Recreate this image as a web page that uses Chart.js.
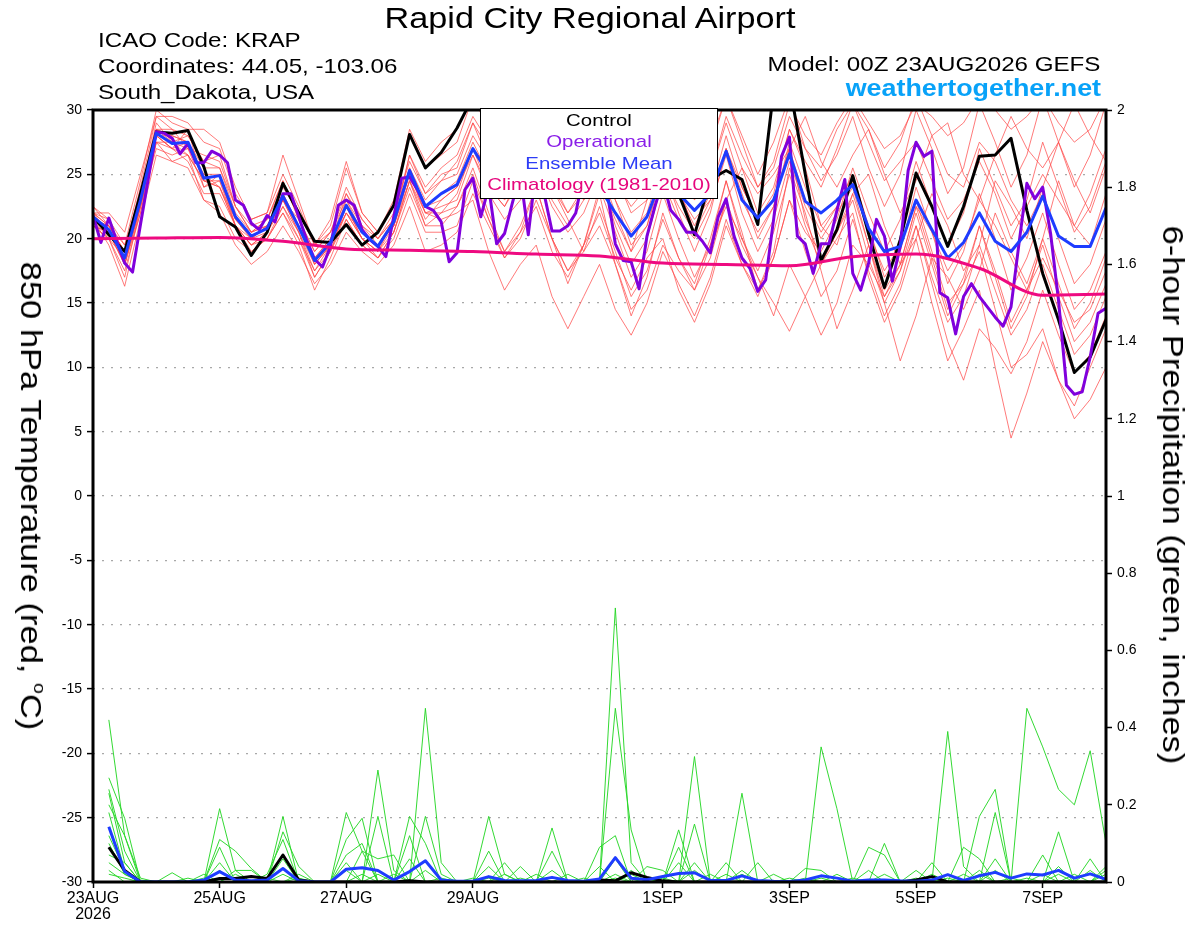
<!DOCTYPE html>
<html>
<head>
<meta charset="utf-8">
<title>Rapid City Regional Airport</title>
<script src="https://cdn.jsdelivr.net/npm/chart.js@4.4.1/dist/chart.umd.min.js"></script>
<style>
  body { margin: 0; background: #fff; }
  #wrap { position: relative; width: 1200px; height: 927px; overflow: hidden;
          font-family: "Liberation Sans", Arial, Helvetica, sans-serif; color: #000; }
  #graf { position: absolute; left: 0; top: 0; }
  .t { position: absolute; white-space: nowrap; line-height: 1; }
  .esq { transform-origin: left center; transform: scaleX(1.15); font-size: 21px; }
  .dir { transform-origin: right center; transform: scaleX(1.15); font-size: 21px; }
  #legenda { position: absolute; left: 480px; top: 108px; width: 238px; height: 91px;
             box-sizing: border-box; border: 1.5px solid #000; background: #fff; padding-top: 0.5px; }
  #legenda div { text-align: center; font-size: 17px; line-height: 21.5px; transform: scaleX(1.2); white-space: nowrap; }
  .rot { position: absolute; white-space: nowrap; line-height: 1; font-size: 30px;
         transform: translate(-50%, -50%) rotate(90deg) scaleX(1.15); }
</style>
</head>
<body>
<div id="wrap">
  <canvas id="graf" width="1200" height="927"></canvas>

  <div class="t" style="left:590px; top:4px; font-size:29px; transform: translateX(-50%) scaleX(1.18);">Rapid City Regional Airport</div>
  <div class="t esq" style="left:98px; top:29px;">ICAO Code: KRAP</div>
  <div class="t esq" style="left:98px; top:55px;">Coordinates: 44.05, -103.06</div>
  <div class="t esq" style="left:98px; top:81px;">South_Dakota, USA</div>
  <div class="t dir" style="right:100px; top:53px;">Model: 00Z 23AUG2026 GEFS</div>
  <div class="t" style="right:99px; top:76px; font-size:24px; font-weight:bold; color:#08a2f8; transform-origin:right center; transform:scaleX(1.12);">weathertogether.net</div>

  <div class="rot" style="left:32px; top:496px;">850 hPa Temperature (red, <sup style="font-size:17px; vertical-align:13px;">o</sup>C)</div>
  <div class="rot" style="left:1173px; top:495px;">6-hour Precipitation (green, inches)</div>

  <div id="legenda">
    <div style="color:#000;">Control</div>
    <div style="color:#8a1ee8;">Operational</div>
    <div style="color:#2c3cf6;">Ensemble Mean</div>
    <div style="color:#e6057c;">Climatology (1981-2010)</div>
  </div>
</div>

<script>
// eixo x em horas desde 00Z 23AUG
var tickHoras = [0, 48, 96, 144, 216, 264, 312, 360]
var tickRotulos = [['23AUG', '2026'], '25AUG', '27AUG', '29AUG', '1SEP', '3SEP', '5SEP', '7SEP']

// temperatura 850 hPa, a cada 6h (65 valores)
var tempControle = [
    21.7, 20.3, 19.0, 23.5, 28.3, 28.2, 28.4, 25.6, 21.7, 20.9, 18.7, 20.5, 24.3, 22.0, 19.8, 19.7, 21.1, 19.5, 20.5, 22.6, 28.1, 25.5,
    26.7, 28.6, 31.0, 30.5, 28.0, 27.0, 28.0, 27.0, 26.0, 27.0, 28.0, 27.0, 26.0, 25.5, 25.0, 23.5, 20.3, 24.6, 25.3, 24.6, 21.1, 31.5,
    32.0, 25.0, 18.3, 20.7, 24.9, 20.4, 16.2, 19.9, 25.1, 22.5, 19.4, 22.5, 26.4, 26.5, 27.8, 22.2, 17.3, 13.7, 9.6, 10.8, 13.7
]
var tempMedia = [
    21.7, 20.7, 18.5, 23.0, 28.2, 27.4, 27.5, 24.7, 24.9, 21.7, 20.2, 20.8, 23.3, 20.9, 18.3, 19.7, 22.6, 20.5, 19.4, 21.3, 25.3, 22.5,
    23.5, 24.2, 27.0, 25.0, 25.0, 26.0, 25.0, 25.5, 25.0, 24.5, 24.0, 22.0, 20.2, 21.7, 25.0, 23.5, 22.2, 23.5, 26.8, 23.0, 21.6, 23.0,
    26.6, 22.9, 22.0, 23.0, 24.2, 20.8, 19.0, 19.4, 23.0, 20.7, 18.5, 19.7, 22.0, 19.8, 19.0, 20.5, 23.3, 20.2, 19.4, 19.4, 22.4
]
// operacional a cada 3h (129 valores)
var tempOperacional = [
    21.8, 19.7, 21.6, 19.8, 18.1, 17.4, 21.1, 24.7, 28.3, 28.2, 27.8, 26.6, 27.4, 25.9, 25.9, 26.8,
    26.5, 25.9, 23.0, 22.6, 21.2, 20.7, 21.8, 21.3, 23.5, 23.5, 21.7, 19.9, 18.4, 17.8, 19.4, 22.6,
    23.0, 22.6, 20.7, 19.9, 19.4, 18.6, 21.7, 24.7, 24.8, 23.8, 22.5, 22.2, 21.3, 18.2, 18.9, 23.8,
    24.7, 21.7, 24.0, 19.6, 20.4, 22.8, 25.0, 20.3, 25.5, 23.5, 20.6, 20.6, 21.0, 22.0, 25.0, 26.0,
    25.5, 23.5, 19.6, 18.3, 18.2, 16.1, 20.2, 22.5, 24.5, 22.2, 21.5, 20.5, 20.5, 19.8, 18.9, 21.7,
    23.1, 20.2, 18.5, 17.7, 15.9, 16.8, 21.5, 26.4, 27.9, 20.2, 19.6, 17.3, 19.6, 19.6, 22.2, 24.6,
    17.3, 16.0, 18.1, 21.5, 20.2, 16.7, 19.4, 25.3, 27.5, 26.4, 26.8, 15.8, 15.4, 12.6, 15.5, 16.5,
    15.5, 14.7, 13.9, 13.2, 14.7, 19.6, 24.3, 23.1, 24.0, 20.4, 15.2, 8.6, 7.9, 8.1, 10.8, 14.2,
    14.6
]
// climatologia diaria (17 valores)
var tempClimatologia = [20.0, 20.05, 20.1, 19.8, 19.2, 19.1, 19.0, 18.8, 18.65, 18.1, 18.0, 17.9, 18.6, 18.8, 17.7, 15.6, 15.7]

// membros do ensemble (temperatura)
var membro1 = [
    22.0, 21.0, 19.0, 24.0, 29.5, 28.5, 27.0, 26.5, 26.0, 22.5, 20.5, 21.5, 24.5, 21.5, 18.0, 19.5, 23.5, 21.0, 19.5, 21.0, 26.5, 23.5,
    24.5, 26.0, 29.0, 26.0, 24.0, 25.5, 27.0, 24.5, 22.0, 24.0, 26.5, 23.0, 19.5, 21.0, 25.5, 22.0, 19.0, 22.0, 27.0, 23.5, 20.0, 22.5,
    27.5, 24.0, 21.0, 22.5, 25.0, 21.0, 17.0, 19.0, 24.0, 20.5, 16.5, 19.0, 23.5, 20.0, 16.0, 18.5, 22.0, 18.0, 14.5, 16.0, 19.0
]
var membro2 = [
    21.0, 20.0, 17.5, 22.0, 27.5, 27.0, 26.5, 23.0, 22.5, 20.0, 19.0, 20.0, 22.0, 20.0, 17.0, 19.0, 21.5, 19.5, 18.5, 20.5, 24.5, 21.0,
    21.0, 22.5, 25.5, 22.0, 19.0, 21.0, 24.0, 20.0, 16.5, 19.5, 23.5, 18.0, 14.0, 17.0, 22.0, 18.5, 16.5, 20.0, 24.5, 20.0, 17.5, 20.5,
    25.0, 21.0, 18.0, 20.0, 22.0, 17.0, 13.5, 16.0, 20.0, 15.0, 10.5, 13.0, 16.0, 10.0, 4.5, 8.0, 12.0, 9.0, 7.0, 10.0, 13.0
]
var membro3 = [
    22.5, 21.5, 19.5, 24.5, 30.0, 29.0, 28.5, 28.5, 27.5, 24.0, 21.5, 22.0, 26.5, 23.0, 19.5, 21.0, 25.5, 22.0, 20.5, 22.5, 28.0, 25.5,
    26.5, 27.5, 31.0, 28.5, 27.0, 28.5, 31.0, 28.0, 26.5, 28.0, 31.0, 27.5, 24.5, 26.0, 30.5, 27.0, 24.5, 27.0, 31.0, 28.0, 25.0, 27.5,
    31.0, 27.0, 24.5, 26.5, 29.5, 25.5, 22.5, 25.0, 30.0, 27.0, 23.5, 25.5, 30.5, 27.5, 24.0, 26.5, 31.0, 27.5, 24.0, 26.5, 30.5
]
var membro4 = [
    21.5, 20.5, 18.0, 22.5, 27.0, 26.5, 27.0, 24.0, 25.0, 21.0, 19.5, 20.5, 22.5, 20.5, 17.5, 19.0, 22.0, 20.0, 19.0, 21.0, 24.5, 22.0,
    22.5, 23.0, 26.5, 23.5, 21.5, 23.0, 25.5, 22.5, 20.5, 22.0, 25.0, 21.0, 18.0, 20.0, 24.5, 21.5, 20.0, 22.5, 26.5, 22.0, 19.0, 21.5,
    26.0, 22.5, 20.0, 22.0, 24.0, 19.5, 16.0, 18.0, 22.5, 18.5, 14.5, 17.0, 21.0, 17.5, 13.5, 16.0, 19.5, 15.5, 12.0, 13.5, 16.5
]
var membro5 = [
    22.0, 20.5, 18.5, 23.5, 28.5, 27.5, 27.0, 25.0, 24.0, 21.5, 20.0, 21.0, 23.5, 21.0, 18.5, 20.0, 22.5, 20.0, 19.0, 21.5, 25.0, 22.0,
    21.5, 22.0, 23.0, 19.0, 16.0, 18.0, 19.5, 15.5, 13.0, 15.5, 18.0, 14.5, 12.5, 15.0, 19.0, 16.5, 14.0, 17.0, 21.5, 18.0, 15.5, 18.5,
    23.0, 20.5, 19.0, 21.5, 25.5, 22.0, 19.0, 21.5, 26.0, 22.5, 19.5, 22.0, 27.0, 24.0, 21.0, 23.0, 27.5, 24.0, 20.5, 22.5, 26.0
]
var membro6 = [
    21.5, 21.0, 19.5, 23.0, 28.0, 28.0, 27.5, 25.5, 25.5, 22.0, 20.5, 21.0, 23.0, 21.5, 19.0, 20.5, 23.0, 21.0, 20.0, 21.5, 25.5, 23.0,
    24.5, 25.0, 28.0, 26.0, 25.5, 27.0, 28.5, 26.0, 24.5, 25.5, 27.0, 24.5, 22.5, 24.0, 27.5, 25.0, 23.5, 25.0, 29.0, 25.5, 23.5, 25.0,
    27.0, 29.5, 26.0, 24.0, 26.5, 28.5, 25.0, 22.0, 24.5, 28.0, 29.0, 25.0, 23.0, 26.5, 29.5, 27.0, 25.5, 27.5, 30.5, 28.0, 26.0
]
var membro7 = [
    22.0, 21.5, 18.0, 22.0, 27.5, 26.0, 26.5, 24.5, 24.0, 21.0, 19.0, 20.0, 22.0, 19.5, 16.0, 18.5, 21.5, 19.5, 18.5, 20.5, 24.0, 21.0,
    22.0, 23.5, 27.0, 24.0, 22.5, 24.5, 26.5, 23.0, 21.0, 23.0, 25.5, 22.0, 19.0, 21.0, 25.0, 22.5, 20.5, 23.0, 27.0, 23.0, 20.5, 22.5,
    27.0, 21.5, 18.5, 20.5, 23.0, 18.5, 15.0, 17.5, 21.0, 17.0, 13.5, 15.5, 19.5, 16.0, 12.5, 14.5, 18.0, 14.5, 11.0, 12.5, 15.5
]
var membro8 = [
    21.0, 20.0, 18.5, 23.5, 29.0, 27.5, 28.0, 26.0, 25.5, 22.5, 21.0, 21.5, 24.0, 22.0, 19.5, 20.5, 23.5, 21.5, 20.0, 22.0, 26.0, 23.5,
    25.0, 25.5, 29.0, 27.0, 25.0, 26.5, 29.5, 26.5, 24.0, 25.0, 28.0, 25.0, 22.0, 23.0, 26.0, 23.5, 21.0, 23.5, 28.0, 24.0, 21.5, 23.5,
    28.5, 25.5, 21.0, 19.5, 23.5, 25.0, 21.0, 18.0, 20.0, 23.5, 21.0, 17.5, 19.5, 24.5, 22.5, 20.0, 24.0, 27.5, 24.5, 22.0, 25.5
]
var membro9 = [
    21.5, 20.0, 17.0, 22.5, 28.0, 27.0, 26.0, 23.5, 23.5, 21.0, 19.5, 20.0, 22.5, 20.0, 17.5, 19.5, 22.0, 20.0, 18.5, 20.0, 23.5, 20.5,
    20.5, 21.0, 24.5, 21.5, 19.0, 20.5, 22.5, 19.0, 17.0, 19.5, 22.0, 18.5, 16.0, 18.5, 20.0, 16.0, 13.5, 16.5, 21.0, 18.0, 16.0, 19.0,
    25.5, 22.0, 17.5, 13.0, 16.0, 19.5, 15.0, 10.5, 14.0, 18.5, 17.0, 14.5, 17.5, 22.0, 19.0, 16.5, 20.0, 24.5, 21.0, 19.5, 23.5
]
var membro10 = [
    22.0, 21.0, 19.0, 23.5, 28.5, 28.0, 27.5, 25.0, 25.0, 21.5, 20.0, 21.0, 23.5, 21.0, 18.5, 20.0, 22.5, 20.5, 19.5, 21.0, 25.0, 22.5,
    23.5, 24.5, 27.5, 25.0, 23.0, 24.5, 26.5, 24.0, 22.0, 23.5, 26.0, 23.0, 20.5, 22.0, 26.0, 23.5, 21.5, 23.0, 27.0, 24.0, 21.5, 23.0,
    27.0, 23.0, 20.5, 22.5, 24.5, 20.5, 17.5, 19.5, 23.0, 19.0, 15.0, 16.5, 19.0, 14.5, 10.0, 11.0, 13.0, 9.0, 6.0, 7.5, 10.0
]
var membro11 = [
    21.0, 20.5, 18.0, 23.0, 28.0, 27.0, 28.5, 24.0, 24.5, 21.5, 20.5, 21.0, 23.0, 20.5, 18.0, 19.5, 23.0, 20.5, 19.5, 21.5, 25.5, 22.5,
    23.0, 24.0, 27.0, 25.5, 24.0, 26.5, 29.0, 27.5, 25.0, 23.0, 24.5, 21.5, 19.0, 23.0, 27.0, 24.0, 20.5, 19.0, 23.0, 25.5, 22.0, 24.0,
    28.5, 26.0, 24.0, 27.0, 30.5, 28.5, 25.5, 27.5, 31.0, 28.0, 25.0, 24.0, 27.5, 26.0, 23.0, 21.0, 23.5, 20.0, 16.5, 18.0, 21.5
]
var membro12 = [
    21.5, 19.5, 16.3, 21.5, 26.5, 26.0, 25.5, 23.0, 22.0, 19.5, 18.0, 19.0, 21.0, 19.0, 16.5, 18.0, 20.5, 19.0, 18.0, 19.5, 22.5, 19.0,
    19.5, 20.5, 23.5, 21.0, 18.5, 20.0, 23.0, 20.0, 17.5, 19.0, 22.5, 19.0, 15.5, 17.5, 21.5, 18.5, 16.0, 18.5, 23.0, 19.5, 17.0, 15.0,
    12.8, 15.5, 18.0, 20.5, 23.5, 19.5, 15.5, 17.5, 22.0, 18.0, 14.0, 16.5, 21.0, 17.0, 13.0, 15.5, 20.0, 16.5, 13.0, 15.0, 18.5
]
var membro13 = [
    22.0, 22.0, 20.5, 25.0, 29.5, 29.5, 29.0, 27.5, 27.0, 23.5, 21.5, 22.0, 25.0, 22.5, 19.5, 21.5, 26.0, 22.0, 20.5, 23.0, 28.5, 26.0,
    27.5, 28.5, 31.0, 29.0, 27.0, 28.5, 30.5, 28.0, 26.0, 27.5, 30.5, 28.0, 25.5, 27.0, 31.0, 28.5, 26.0, 27.5, 31.0, 27.5, 24.0, 26.0,
    30.5, 28.0, 26.5, 29.0, 31.0, 29.0, 27.0, 28.0, 30.5, 29.5, 28.0, 29.0, 31.0, 30.0, 28.5, 29.5, 31.0, 29.0, 27.5, 28.5, 31.0
]
var membro14 = [
    21.5, 21.0, 18.5, 22.5, 27.5, 27.5, 26.5, 24.5, 24.5, 21.0, 20.0, 20.5, 23.0, 21.0, 18.0, 19.5, 22.0, 20.5, 19.5, 21.0, 25.0, 22.0,
    22.0, 22.5, 25.0, 21.5, 18.5, 20.5, 24.0, 20.0, 17.5, 19.5, 24.0, 20.5, 17.0, 19.0, 23.5, 20.0, 17.0, 19.5, 24.5, 20.5, 16.0, 18.5,
    23.0, 19.0, 15.5, 17.5, 21.5, 17.5, 14.0, 16.5, 21.0, 16.5, 12.0, 9.0, 13.0, 11.5, 9.5, 12.0, 16.0, 12.5, 9.5, 11.0, 14.0
]
var membro15 = [
    22.5, 21.0, 19.0, 23.5, 28.5, 28.5, 28.0, 26.0, 26.5, 22.5, 20.5, 21.5, 24.5, 21.5, 19.0, 20.5, 24.0, 21.5, 20.0, 21.5, 26.5, 24.0,
    25.5, 26.5, 29.5, 27.5, 26.0, 27.0, 29.0, 26.5, 25.0, 26.5, 29.5, 26.5, 24.0, 25.5, 29.0, 26.0, 23.0, 25.0, 29.5, 26.5, 24.0, 25.5,
    29.5, 27.0, 25.5, 28.5, 30.5, 27.5, 24.5, 26.0, 27.5, 24.5, 21.5, 23.0, 26.0, 23.5, 20.0, 22.5, 25.0, 23.0, 21.0, 23.5, 27.0
]
var membro16 = [
    21.0, 20.5, 18.0, 22.5, 28.0, 27.0, 27.5, 24.5, 24.0, 21.0, 19.5, 20.5, 23.0, 20.5, 17.0, 19.0, 22.5, 20.0, 19.0, 20.5, 24.5, 21.5,
    23.0, 24.0, 26.5, 24.0, 22.5, 25.0, 27.5, 24.0, 21.5, 19.0, 21.0, 18.0, 14.5, 16.0, 19.5, 17.5, 16.0, 19.5, 22.5, 20.0, 17.0, 14.0,
    18.0, 15.5, 12.5, 15.0, 19.5, 18.0, 15.5, 18.0, 22.5, 20.5, 17.5, 19.5, 23.0, 21.0, 18.5, 16.0, 18.5, 16.0, 13.5, 14.5, 17.5
]
var membrosTemp = [membro1, membro2, membro3, membro4, membro5, membro6, membro7, membro8,
                   membro9, membro10, membro11, membro12, membro13, membro14, membro15, membro16]

// precipitacao 6h, de 06Z 23AUG em diante (64 valores)
var chuvaControle = [
    .09, .03, 0, 0, 0, 0, 0, .009, .009, .014, .009, .07, .005, 0, 0, 0,
    0, 0, 0, .003, 0, 0, 0, 0, 0, 0, 0, 0, 0, 0, 0, .005,
    .003, .024, .012, .003, 0, 0, 0, 0, 0, 0, 0, 0, 0, 0, 0, 0,
    0, 0, 0, .005, .014, 0, 0, 0, 0, 0, 0, 0, 0, 0, 0, 0
]
var chuvaMedia = [
    .143, .027, 0, 0, 0, 0, .005, .027, .005, .003, .005, .035, .003, 0, 0, .033,
    .037, .03, .005, .027, .055, .005, .002, .002, .014, .004, .003, .004, .012, .004, .002, .008,
    .063, .01, .006, .014, .022, .024, .004, .004, .016, .004, .002, .001, .005, .016, .01, .002,
    .005, .005, .003, .002, .005, .019, .004, .016, .025, .01, .021, .018, .03, .01, .021, .007
]
var chuva1 = [
    .42, .12, 0, 0, 0, 0, 0, .05, 0, 0, 0, .17, 0, 0, 0, .07,
    .10, 0, 0, 0, .45, .05, 0, 0, 0, 0, 0, 0, 0, 0, 0, 0,
    .71, .05, 0, 0, 0, .05, 0, 0, 0, 0, 0, 0, 0, .35, .19, 0,
    0, 0, 0, 0, 0, .02, 0, 0, 0, 0, .45, .35, .24, .20, .34, .10
]
var chuva2 = [
    .27, .165, 0, 0, 0, 0, 0, .19, .03, 0, 0, .06, 0, 0, 0, 0,
    0, .29, .03, 0, 0, 0, 0, 0, .17, .02, 0, 0, 0, 0, 0, 0,
    .45, .135, 0, 0, 0, .325, 0, 0, .03, 0, 0, 0, 0, 0, 0, 0,
    0, 0, 0, 0, 0, .39, .04, 0, .06, 0, 0, 0, .13, 0, 0, 0
]
var chuva3 = [
    .24, .08, 0, 0, 0, 0, 0, .11, .08, .035, 0, 0, 0, 0, 0, .18,
    .08, 0, 0, .17, .10, 0, 0, 0, 0, 0, 0, 0, .14, 0, 0, 0,
    0, 0, 0, 0, .09, 0, 0, 0, .23, 0, 0, 0, 0, 0, 0, 0,
    .09, .07, 0, 0, 0, 0, 0, .17, .24, 0, 0, .07, 0, 0, .06, 0
]
var chuva4 = [
    .23, .05, 0, 0, .024, 0, 0, 0, 0, 0, 0, .13, .04, 0, 0, 0,
    0, .17, 0, .12, 0, 0, 0, 0, .08, 0, 0, 0, 0, 0, 0, .09,
    .12, 0, 0, 0, .135, 0, 0, 0, 0, 0, 0, 0, .035, .03, 0, 0,
    0, .10, 0, 0, 0, 0, 0, 0, .18, 0, 0, 0, 0, 0, 0, .04
]
var chuva5 = [
    .20, .12, .01, 0, 0, 0, 0, .09, 0, 0, .02, .11, 0, 0, 0, .11,
    .165, 0, 0, 0, .17, .02, 0, 0, 0, .05, 0, 0, .08, 0, 0, 0,
    .06, 0, 0, 0, 0, .15, 0, 0, 0, .05, 0, 0, 0, 0, 0, 0,
    0, 0, 0, 0, .05, 0, .09, .06, 0, 0, 0, 0, 0, 0, 0, 0
]
var chuva6 = [
    .18, .03, 0, 0, 0, 0, .02, 0, .03, .03, 0, 0, .02, 0, 0, 0,
    .08, .06, .07, 0, 0, 0, 0, 0, .04, 0, .04, 0, 0, 0, 0, .04,
    0, .02, 0, 0, .05, 0, 0, .05, 0, 0, 0, 0, 0, 0, 0, 0,
    .03, 0, 0, .03, 0, 0, 0, 0, 0, 0, 0, 0, .02, 0, 0, 0
]
var chuva7 = [
    .12, .03, 0, 0, 0, .01, 0, .03, 0, 0, 0, 0, 0, 0, 0, .05,
    0, 0, 0, .06, 0, 0, 0, 0, 0, 0, 0, .02, 0, .02, 0, 0,
    0, 0, .04, .03, 0, 0, .02, 0, 0, 0, .02, 0, 0, 0, .02, 0,
    0, 0, 0, 0, 0, 0, 0, .03, 0, .01, 0, 0, 0, 0, 0, 0
]
var chuva8 = [
    .10, .02, 0, 0, 0, 0, .01, 0, 0, 0, 0, .02, 0, 0, 0, 0,
    0, .02, 0, 0, .03, 0, 0, 0, 0, 0, 0, 0, .03, 0, 0, 0,
    .02, 0, 0, 0, 0, .03, 0, 0, 0, 0, 0, .01, 0, 0, 0, 0,
    0, 0, 0, 0, .02, 0, 0, 0, .03, 0, 0, .02, 0, 0, 0, .03
]
var chuva9 = [
    .07, .05, 0, 0, 0, 0, 0, 0, 0, 0, .01, 0, 0, 0, 0, 0,
    0, 0, .02, 0, 0, 0, 0, .01, 0, 0, 0, 0, 0, 0, .01, 0,
    0, 0, 0, .01, 0, 0, 0, 0, .02, 0, 0, 0, 0, 0, 0, 0,
    0, .02, 0, 0, 0, 0, .02, 0, 0, 0, 0, 0, 0, .02, 0, 0
]
var chuva10 = [
    .05, .02, 0, 0, 0, 0, 0, 0, .02, 0, 0, 0, 0, 0, 0, .03,
    0, 0, 0, 0, 0, 0, 0, 0, 0, .02, 0, 0, 0, 0, 0, 0,
    0, .03, 0, 0, 0, 0, 0, .02, 0, 0, 0, 0, 0, 0, 0, .01,
    0, 0, 0, 0, 0, 0, 0, .02, 0, 0, 0, 0, 0, 0, .03, 0
]
var chuva11 = [
    .03, 0, .005, 0, 0, 0, 0, 0, 0, 0, 0, 0, .01, 0, 0, 0,
    0, 0, 0, 0, 0, .01, 0, 0, 0, 0, .01, 0, 0, 0, 0, 0,
    0, 0, .01, 0, 0, 0, 0, 0, 0, 0, 0, 0, .01, 0, 0, 0,
    0, 0, 0, .01, 0, 0, 0, 0, 0, 0, .01, 0, 0, 0, 0, .02
]
var chuva12 = [
    .02, .01, 0, 0, 0, 0, 0, 0, 0, 0, 0, 0, 0, 0, 0, 0,
    .02, 0, 0, 0, 0, 0, 0, 0, .01, 0, 0, 0, 0, 0, 0, 0,
    .01, 0, 0, 0, 0, 0, 0, 0, 0, 0, 0, 0, 0, .01, 0, 0,
    0, 0, 0, 0, 0, .01, 0, 0, 0, 0, 0, 0, .04, 0, 0, 0
]
var membrosChuva = [chuva1, chuva2, chuva3, chuva4, chuva5, chuva6, chuva7, chuva8, chuva9, chuva10, chuva11, chuva12]

function pontos(valores, passo, inicio) {
    return valores.map(function (v, i) { return { x: (inicio + i) * passo, y: v } })
}

function linha(valores, passo, inicio, cor, largura, eixo, ordem) {
    return {
        data: pontos(valores, passo, inicio),
        borderColor: cor,
        borderWidth: largura,
        yAxisID: eixo,
        order: ordem,
        pointRadius: 0,
        fill: false
    }
}

var conjuntos = []
for (i = 0; i < membrosTemp.length; i++) {
    conjuntos.push(linha(membrosTemp[i], 6, 0, 'rgba(255,70,70,0.72)', 1, 'y', 8))
}
for (i = 0; i < membrosChuva.length; i++) {
    conjuntos.push(linha(membrosChuva[i], 6, 1, 'rgba(40,215,40,0.95)', 1, 'y2', 7))
}
conjuntos.push(linha(chuvaControle, 6, 1, '#000000', 3, 'y2', 6))
conjuntos.push(linha(chuvaMedia, 6, 1, '#1e3cff', 3, 'y2', 5))
conjuntos.push(linha(tempControle, 6, 0, '#000000', 3, 'y', 4))
conjuntos.push(linha(tempOperacional, 3, 0, '#8000dc', 3, 'y', 3))
conjuntos.push(linha(tempMedia, 6, 0, '#1e3cff', 3, 'y', 2))
var clima = linha(tempClimatologia, 24, 0, '#ee0a80', 3, 'y', 1)
clima.cubicInterpolationMode = 'monotone'
conjuntos.push(clima)

var moldura = {
    id: 'moldura',
    afterDatasetsDraw: function (chart) {
        var a = chart.chartArea
        var c = chart.ctx
        c.save()
        c.strokeStyle = '#000'
        c.lineWidth = 3
        c.strokeRect(a.left, a.top, a.right - a.left, a.bottom - a.top)
        c.restore()
    }
}

Chart.defaults.font.family = '"Liberation Sans", Arial, Helvetica, sans-serif'
Chart.defaults.color = '#000'

var ctx = document.getElementById('graf')
var grafico = new Chart(ctx, {
    type: 'line',
    data: { datasets: conjuntos },
    plugins: [moldura],
    options: {
        responsive: false,
        animation: false,
        devicePixelRatio: 1,
        layout: { padding: { top: 110, left: 0, right: 0, bottom: 0 } },
        elements: { line: { tension: 0, borderJoinStyle: 'round' }, point: { radius: 0 } },
        plugins: { legend: { display: false }, tooltip: { enabled: false } },
        scales: {
            x: {
                type: 'linear',
                min: 0,
                max: 384,
                afterBuildTicks: function (s) { s.ticks = tickHoras.map(function (v) { return { value: v } }) },
                afterFit: function (s) { s.height = 45 },
                ticks: {
                    callback: function (v) { return tickRotulos[tickHoras.indexOf(v)] },
                    font: { size: 16, lineHeight: 1 },
                    color: '#000',
                    maxRotation: 0,
                    autoSkip: false,
                    padding: 3
                },
                grid: { drawOnChartArea: false, drawTicks: true, tickLength: 6, tickColor: '#000', tickWidth: 1.5 },
                border: { display: false }
            },
            y: {
                position: 'left',
                min: -30,
                max: 30,
                afterFit: function (s) { s.width = 93 },
                ticks: { stepSize: 5, font: { size: 14 }, color: '#000', padding: 5 },
                grid: { color: '#a8a8a8', lineWidth: 1.2, tickLength: 6, tickColor: '#000', tickWidth: 1.5, tickBorderDash: [] },
                border: { display: false, dash: [2, 7] }
            },
            y2: {
                position: 'right',
                min: 0,
                max: 2,
                afterFit: function (s) { s.width = 94 },
                ticks: {
                    stepSize: 0.2,
                    callback: function (v) { return String(Math.round(v * 10) / 10) },
                    font: { size: 14 },
                    color: '#000',
                    padding: 5
                },
                grid: { drawOnChartArea: false, tickLength: 6, tickColor: '#000', tickWidth: 1.5 },
                border: { display: false }
            }
        }
    }
})
</script>
</body>
</html>
